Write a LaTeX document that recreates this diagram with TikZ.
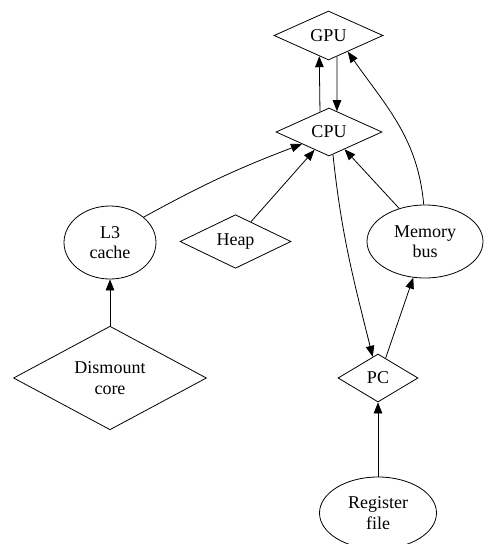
\documentclass[tikz,border=0pt]{standalone}
\usepackage{fontspec}
\setmainfont{Liberation Serif}
\usetikzlibrary{calc, arrows.meta, shapes.geometric, positioning}
\tikzstyle{line} = [draw, line width=0.8pt, -{Triangle[length=11pt,width=8.5pt]}]
\tikzstyle{dia} = [draw, diamond, inner sep=0pt, line width=0.8pt]
\tikzstyle{ell} = [draw, ellipse, inner sep=0pt, line width=0.8pt]

\begin{document}
\begin{tikzpicture}
    [
        x=1pt, y=-1pt,
        every node/.style={font=\fontsize{18}{20.5}\selectfont, align=center},
    ]
    \useasboundingbox (0,0) rectangle (484,544);

    %% top row
    \node[dia, minimum width=109pt, minimum height=49pt] (gpu) at (328.5, 35.5) {GPU};
    \node[dia, minimum width=106pt, minimum height=48pt] (cpu) at (329, 132) {CPU};

    %% middle row
    \node[ell, minimum width=92pt, minimum height=73pt] (l3) at (110, 242.5) {L3\\cache};
    \node[dia, minimum width=111pt, minimum height=49pt] (heap) at (235.5, 241.5) {Heap};
    \node[ell, minimum width=116pt, minimum height=73pt] (bus) at (425, 241.5) {Memory\\bus};

    %% lower rows
    \node[dia, minimum width=193pt, minimum height=102pt] (dism) at (110, 378) {Dismount\\core};
    \node[dia, minimum width=80pt, minimum height=48pt] (pc) at (378, 378) {PC};
    \node[ell, minimum width=117pt, minimum height=72pt] (reg) at (378, 513) {Register\\file};

    \path[line] (cpu.114) -- (gpu.246);
    \path[line] (gpu.292) -- (cpu.69);
    \path[line] (bus.92) to[out=95, in=-55] (gpu.-40);
    \path[line] (bus.128) -- (cpu.-48);
    \path[line] (l3.37) to[bend left=4] (cpu.204);
    \path[line] (heap.52) -- (cpu.231);
    \path[line] (cpu.-80) to[out=-84, in=104] (pc.104);
    \path[line] (pc.69) -- (bus.-108);
    \path[line] (dism.north) -- (l3.south);
    \path[line] (reg.north) -- (pc.south);

\end{tikzpicture}
\end{document}
